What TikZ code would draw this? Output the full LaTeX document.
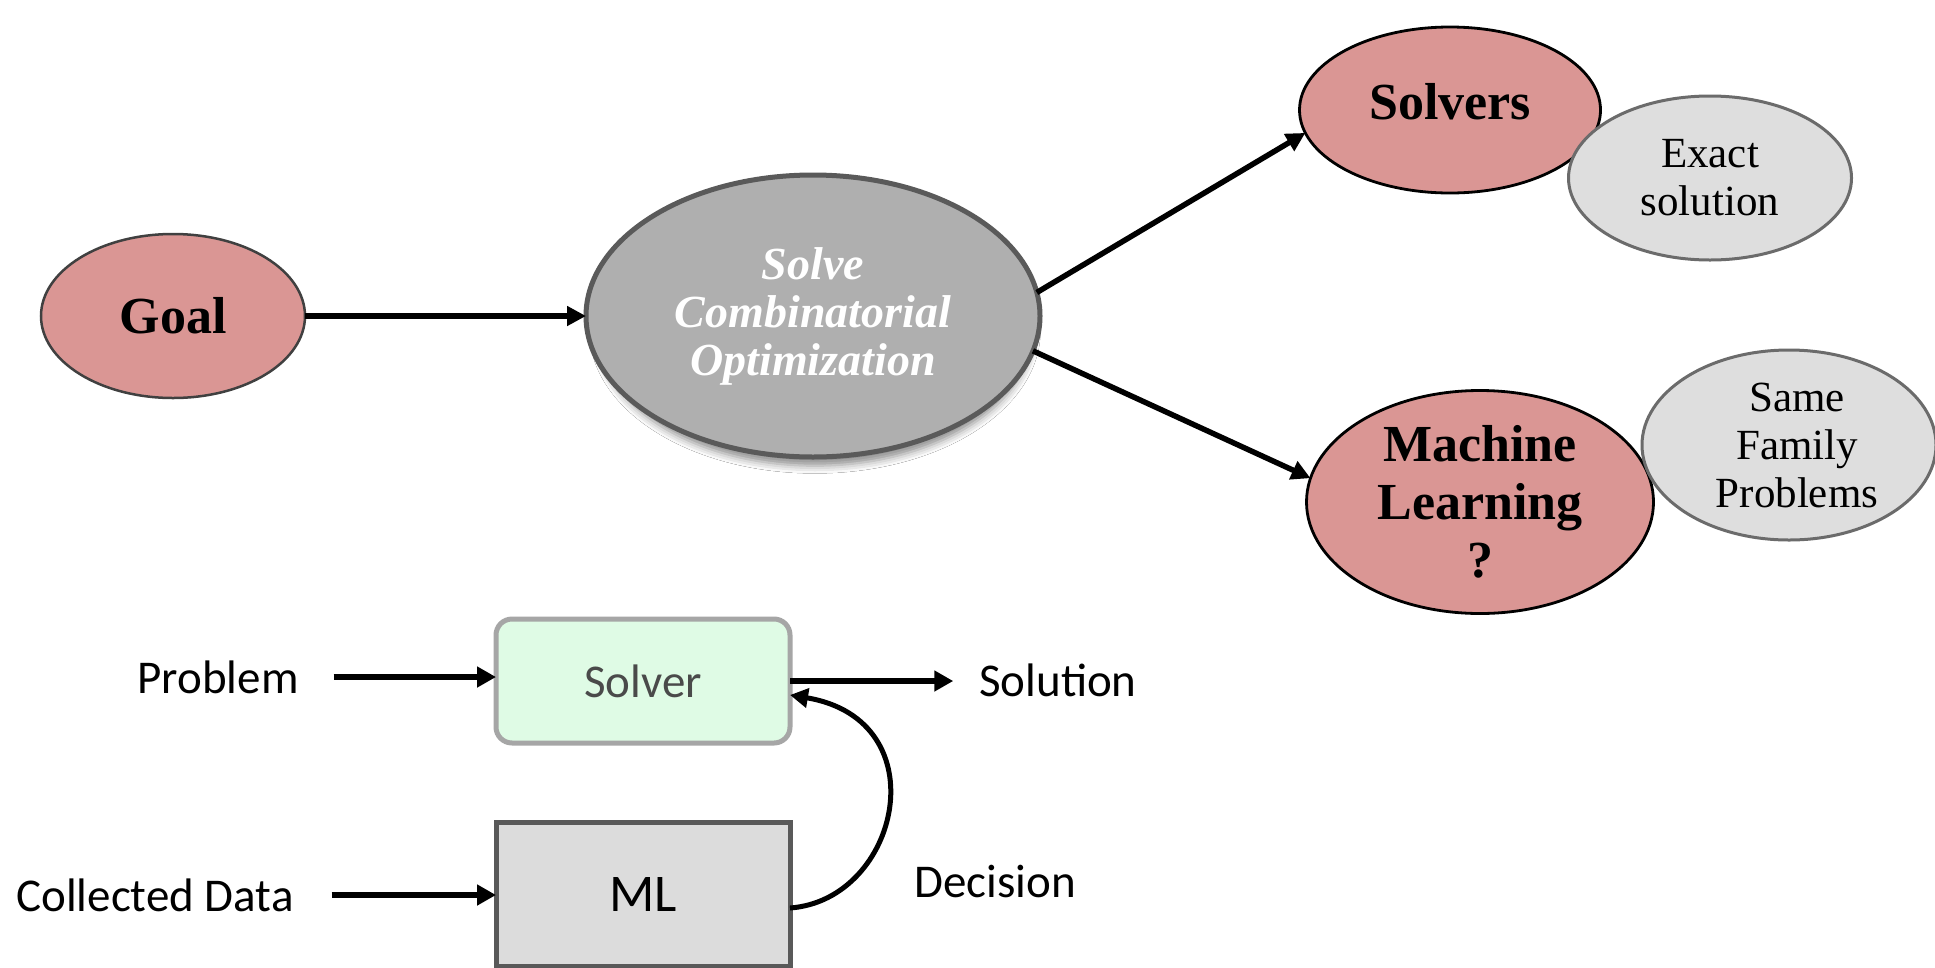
\documentclass[tikz,border=0pt]{standalone}
\usepackage{fontspec}
\setmainfont{Liberation Serif}
\newfontfamily\calib{Carlito}
\usetikzlibrary{shapes.geometric,arrows.meta,shadows.blur}

\definecolor{rosefill}{HTML}{DA9694}
\definecolor{goaledge}{HTML}{404040}
\definecolor{solvefill}{HTML}{AFAFAF}
\definecolor{solveedge}{HTML}{5A5A5A}
\definecolor{greyfill}{HTML}{DEDEDE}
\definecolor{greyedge}{HTML}{6B6B6B}
\definecolor{solverfill}{HTML}{DFFBE5}
\definecolor{solveredge}{HTML}{A6A6A6}
\definecolor{solvertext}{HTML}{4A4A4A}
\definecolor{mlfill}{HTML}{DCDCDC}
\definecolor{mledge}{HTML}{595959}

\tikzset{
  pinkell/.style={ellipse, draw=black, line width=2.8pt, fill=rosefill, align=center,
    font=\fontsize{52}{58}\selectfont\bfseries},
  greyell/.style={ellipse, draw=greyedge, line width=3pt, fill=greyfill, align=center,
    font=\fontsize{43}{48}\selectfont},
  link/.style={line width=5.5pt, -{Triangle[length=19pt,width=19pt]}},
  flow/.style={line width=6pt, -{Triangle[length=19pt,width=20pt]}},
  sidetext/.style={font=\calib\fontsize{47}{56}\selectfont},
  boxstyle/.style={line width=5pt, minimum width=294pt, font=\calib\fontsize{47}{56}\selectfont}
}

\begin{document}
\begin{tikzpicture}[x=1pt,y=-1pt, every node/.style={inner sep=0pt, outer sep=0pt}]
\useasboundingbox (0,0) rectangle (1935,967);
\fill[white] (0,0) rectangle (1935,967);

% upper diagram: goal and the two routes
\node[pinkell, draw=goaledge, line width=2.5pt, minimum width=264pt, minimum height=164pt]
  (goal) at (173,316) {Goal};
\node[ellipse, fill=solvefill, draw=solveedge, line width=5pt,
  minimum width=454pt, minimum height=282pt, align=center, text=white,
  font=\fontsize{46}{48}\selectfont\bfseries\itshape,
  blur shadow={shadow scale=0.96, shadow xshift=2pt, shadow yshift=-15pt,
    shadow blur radius=8pt, shadow opacity=45}]
  (solve) at (813,316) {Solve\\Combinatorial\\Optimization};

\node[pinkell, minimum width=301pt, minimum height=166pt, text depth=18pt]
  (solvers) at (1450,110) {Solvers};
\node[pinkell, minimum width=347pt, minimum height=223pt]
  (mlq) at (1480,502) {Machine\\Learning\\?};

\node[greyell, minimum width=283pt, minimum height=164pt]
  (exact) at (1710,178) {Exact\\solution};
\node[greyell, minimum width=294pt, minimum height=190pt]
  (family) at (1789,445) {\hspace*{16pt}Same\\\hspace*{16pt}Family\\\hspace*{16pt}Problems};

\draw[link] (goal) -- (solve);
\draw[link] (solve.6) -- (solvers.189);
\draw[link] (solve.-9) -- (mlq.172);

% lower diagram: solver guided by a learned model
\node[boxstyle, draw=solveredge, rounded corners=16pt, fill=solverfill, minimum height=124pt,
  text=solvertext] (solver) at (643,681) {Solver};
\node[boxstyle, draw=mledge, fill=mlfill, minimum height=144pt,
  font=\calib\fontsize{53}{60}\selectfont] (mlbox) at (643,894) {ML};

\node[sidetext] (problem) at (218,677) {Problem};
\node[sidetext] (solution) at (1058,680) {Solution};
\node[sidetext] (data) at (155,895) {Collected Data};
\node[sidetext] (decision) at (995,881) {Decision};

\draw[flow, shorten <=35pt] (problem.east) -- (problem.east -| solver.west);
\draw[flow, shorten >=26pt] (solver.east) -- (solver.east -| solution.west);
\draw[flow, shorten <=38pt] (data.east) -- (data.east -| mlbox.west);
\draw[line width=5pt, -{Triangle[length=18pt,width=19pt]}]
  ([yshift=-14pt]mlbox.east) .. controls (900,900) and (940,720) .. ([yshift=-14pt]solver.east);
\end{tikzpicture}
\end{document}
